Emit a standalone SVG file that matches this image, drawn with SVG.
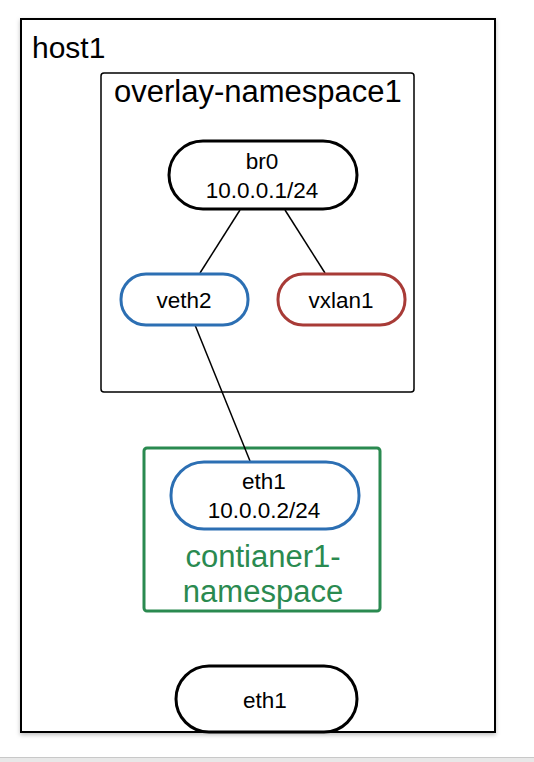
<svg xmlns="http://www.w3.org/2000/svg" width="534" height="762" viewBox="0 0 534 762">
<style>
text{font-family:"Liberation Sans",Arial,sans-serif;fill:#000}
.big{font-size:30px}
.mid{font-size:22.5px;text-anchor:middle}
.pill{fill:#fff;stroke-width:3}
</style>
<defs>
<filter id="sh" x="-5%" y="-5%" width="110%" height="110%"><feDropShadow dx="0" dy="2" stdDeviation="2" flood-color="#000" flood-opacity="0.25"/></filter>
</defs>
<rect x="0" y="0" width="534" height="762" fill="#fff"/>
<rect x="0" y="757" width="534" height="5" fill="#e8e8e8"/>
<line x1="0" y1="757.5" x2="534" y2="757.5" stroke="#c8c8c8" stroke-width="1"/>
<g id="host1">
<rect x="21" y="19" width="474" height="713" fill="#fff" stroke="#000" stroke-width="2" filter="url(#sh)"/>
<text class="big" x="32" y="58">host1</text>
</g>
<g id="overlay-namespace1">
<rect x="101" y="73" width="313" height="319" rx="3" fill="#fff" stroke="#000" stroke-width="1.5"/>
<text class="big" x="114" y="102" style="font-size:31px">overlay-namespace1</text>
</g>
<g id="contianer1-namespace">
<rect x="144" y="448" width="236" height="163" rx="3" fill="#fff" stroke="#2a8a50" stroke-width="3"/>
<text class="big" x="263" y="567" text-anchor="middle" style="fill:#2a8a50;font-size:31px">contianer1-</text>
<text class="big" x="263" y="602" text-anchor="middle" style="fill:#2a8a50;font-size:31px">namespace</text>
</g>
<g id="connectors" stroke="#000" stroke-width="1.5" fill="none">
<line x1="240" y1="210" x2="200" y2="273"/>
<line x1="285" y1="210" x2="325" y2="273"/>
<line x1="195" y1="325" x2="250" y2="461"/>
</g>
<g id="br0">
<rect class="pill" x="169" y="141" width="188" height="68" rx="34" stroke="#000"/>
<text class="mid" x="262" y="169">br0</text>
<text class="mid" x="262" y="198">10.0.0.1/24</text>
</g>
<g id="veth2">
<rect class="pill" x="121" y="274" width="127" height="51" rx="25" stroke="#2c6fb3"/>
<text class="mid" x="184" y="308">veth2</text>
</g>
<g id="vxlan1">
<rect class="pill" x="278" y="274" width="127" height="51" rx="25" stroke="#a83b37"/>
<text class="mid" x="341" y="308">vxlan1</text>
</g>
<g id="eth1-container">
<rect class="pill" x="171" y="462" width="188" height="67" rx="33" stroke="#2c6fb3"/>
<text class="mid" x="264" y="489">eth1</text>
<text class="mid" x="264" y="518">10.0.0.2/24</text>
</g>
<g id="eth1-host">
<rect class="pill" x="176" y="666" width="181" height="66" rx="33" stroke="#000"/>
<text class="mid" x="265" y="708">eth1</text>
</g>
</svg>
